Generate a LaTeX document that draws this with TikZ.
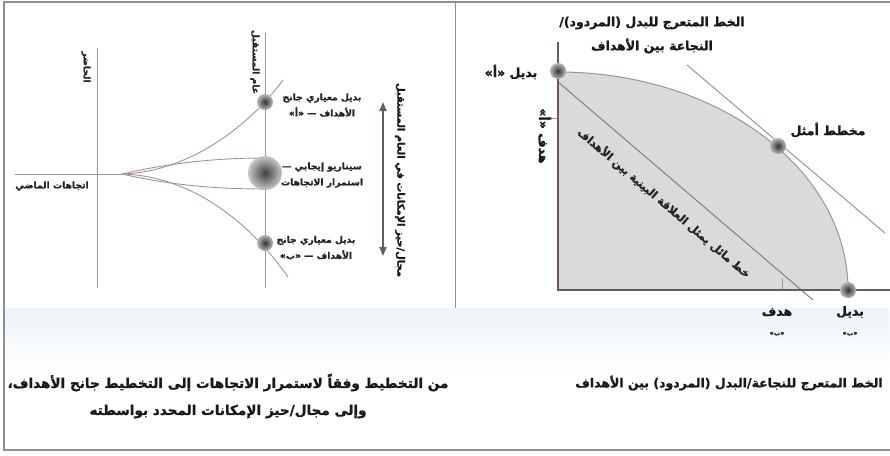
\documentclass[tikz,border=0pt]{standalone}
\usepackage{fontspec}
\usepackage{tikz}
\usetikzlibrary{arrows.meta,positioning,calc}
\TeXXeTstate=1
\newfontfamily\arabicfont[Script=Arabic,BoldFeatures={FakeBold=1.2}]{DejaVu Sans}
\newcommand{\rtl}[1]{\beginR #1\endR}
\definecolor{linecol}{HTML}{A3938F}
\definecolor{axiscol}{HTML}{6B5B57}
\definecolor{shadecol}{HTML}{DADADA}
\definecolor{framecol}{HTML}{8E8E8E}
\definecolor{bandcol}{HTML}{EDF4F8}

\begin{document}
\begin{tikzpicture}[x=1pt,y=-1pt,
  every node/.style={inner sep=0pt},
  lbl/.style={font=\arabicfont\bfseries\fontsize{9.2}{16}\selectfont,align=center,text=black!85},
  mid/.style={font=\arabicfont\bfseries\fontsize{10}{12}\selectfont,align=center,text=black!90},
  big/.style={font=\arabicfont\bfseries\fontsize{12.5}{24}\selectfont,align=center,text=black!90},
  captext/.style={font=\arabicfont\bfseries\fontsize{12.5}{27}\selectfont,align=center,text=black!90},
  fanline/.style={draw=linecol,line width=0.9pt},
  axis/.style={draw=axiscol,line width=2.2pt},
  dot/.style={circle,minimum size=16pt,shading=radial,inner color=black!80,outer color=black!28}]
 \useasboundingbox (0,0) rectangle (890,455);
 \fill[top color=bandcol,bottom color=white] (5,308) rectangle (889,372);
 \draw[framecol,line width=1.4pt] (890,2) -- (4,2) -- (4,450) -- (890,450);
 \draw[framecol,line width=1pt] (455,2) -- (455,308);
 % left panel: from trends to goal-oriented planning
 \coordinate (pastL) at (15,174);
 \coordinate (fan) at (122,174);
 \coordinate (nowT) at (97,48);
 \coordinate (nowB) at (97,288);
 \coordinate (futT) at (265,33);
 \coordinate (futB) at (265,288);
 \coordinate (upEnd) at (283,80);
 \coordinate (loEnd) at (288,277);
 \coordinate (midUp) at (265,158);
 \coordinate (midLo) at (265,189);
 \foreach \a/\b in {pastL/fan,nowT/nowB,futT/futB}
   \draw[fanline] (\a) -- (\b);
 \draw[fanline] (fan) .. controls (190,172) and (250,125) .. (upEnd);
 \draw[fanline] (fan) .. controls (190,176) and (248,220) .. (loEnd);
 \draw[fanline] (fan) .. controls (170,163) and (215,158) .. (midUp);
 \draw[fanline] (fan) .. controls (170,185) and (215,189) .. (midLo);
 \node[dot] (altA) at (265,102) {};
 \node[dot,minimum size=34pt,inner color=black!75,outer color=black!22] (trend) at (265,173) {};
 \node[dot] (altB) at (265,243) {};
 \node[lbl,rotate=-90] (nowlbl) at (86,67) {\rtl{الحاضر}};
 \node[lbl,rotate=-90] (futlbl) at (255,62) {\rtl{عام المستقبل}};
 \node[lbl] (pastlbl) at (52,186) {\rtl{اتجاهات الماضي}};
 \node[lbl] (altAlbl) at (322,105) {\rtl{بديل معياري جانح}\\\rtl{الأهداف — «أ»}};
 \node[lbl] (trendlbl) at (322,175) {\rtl{سيناريو إيجابي —}\\\rtl{استمرار الاتجاهات}};
 \node[lbl] (altBlbl) at (316,248) {\rtl{بديل معياري جانح}\\\rtl{الأهداف — «ب»}};
 \coordinate (rangeT) at (383,102);
 \coordinate (rangeB) at (383,256);
 \draw[{Triangle[length=9pt,width=7pt]}-{Triangle[length=9pt,width=7pt]},axiscol,line width=1.8pt] (rangeT) -- (rangeB);
 \node[mid,rotate=-90] (rangelbl) at (400,180) {\rtl{مجال/حيز الإمكانات في العام المستقبل}};
 % right panel: trade-off curve between goals
 \coordinate (org) at (558,290);
 \coordinate (yTop) at (558,42);
 \coordinate (xEnd) at (890,290);
 \fill[shadecol] (558,72) arc[start angle=-90,end angle=0,x radius=290,y radius=218] -- (org) -- cycle;
 \draw[linecol,line width=1pt] (558,72) arc[start angle=-90,end angle=0,x radius=290,y radius=218];
 \coordinate (tanA) at (687,65);
 \coordinate (tanB) at (885,233);
 \coordinate (diagA) at (558,82);
 \coordinate (diagB) at (813,300);
 \draw[linecol,line width=1pt] (tanA) -- (tanB);
 \draw[axiscol!80,line width=1pt] (diagA) -- (diagB);
 \draw[linecol,line width=0.8pt] (782,278) -- (782,290);
 \draw[linecol,line width=0.8pt] (551,118) -- (558,118);
 \draw[axis] (yTop) -- (org) -- (xEnd);
 \node[dot] (bestA) at (558,71) {};
 \node[dot] (opt) at (778,146) {};
 \node[dot] (bestB) at (848,290) {};
 \node[big] (titlelbl) at (652,35) {\rtl{الخط المتعرج للبدل (المردود)/}\\\rtl{النجاعة بين الأهداف}};
 \node[big] (bestAlbl) at (511,72) {\rtl{بديل «أ»}};
 \node[big] (optlbl) at (828,130) {\rtl{مخطط أمثل}};
 \node[big,rotate=-90] (goalAlbl) at (545,136) {\rtl{هدف «أ»}};
 \node[lbl,rotate=-40.5,font=\arabicfont\bfseries\fontsize{11}{12}\selectfont] (diaglbl) at (664,203) {\rtl{خط مائل يمثل العلاقة البينية بين الأهداف}};
 \node[big] (goalBlbl) at (777,312) {\rtl{هدف}};
 \node[lbl,font=\arabicfont\bfseries\fontsize{6.5}{8}\selectfont] (goalBsub) at (777,334) {\rtl{«ب»}};
 \node[big] (bestBlbl) at (850,312) {\rtl{بديل}};
 \node[lbl,font=\arabicfont\bfseries\fontsize{6.5}{8}\selectfont] (bestBsub) at (850,334) {\rtl{«ب»}};
 % captions
 \node[captext] (rightcap) at (729,383) {\rtl{الخط المتعرج للنجاعة/البدل (المردود) بين الأهداف}};
 \node[captext,font=\arabicfont\bfseries\fontsize{13.6}{27}\selectfont] (leftcap) at (228,396) {\rtl{من التخطيط وفقاً لاستمرار الاتجاهات إلى التخطيط جانح الأهداف،}\\\rtl{وإلى مجال/حيز الإمكانات المحدد بواسطته}};
\end{tikzpicture}
\end{document}
